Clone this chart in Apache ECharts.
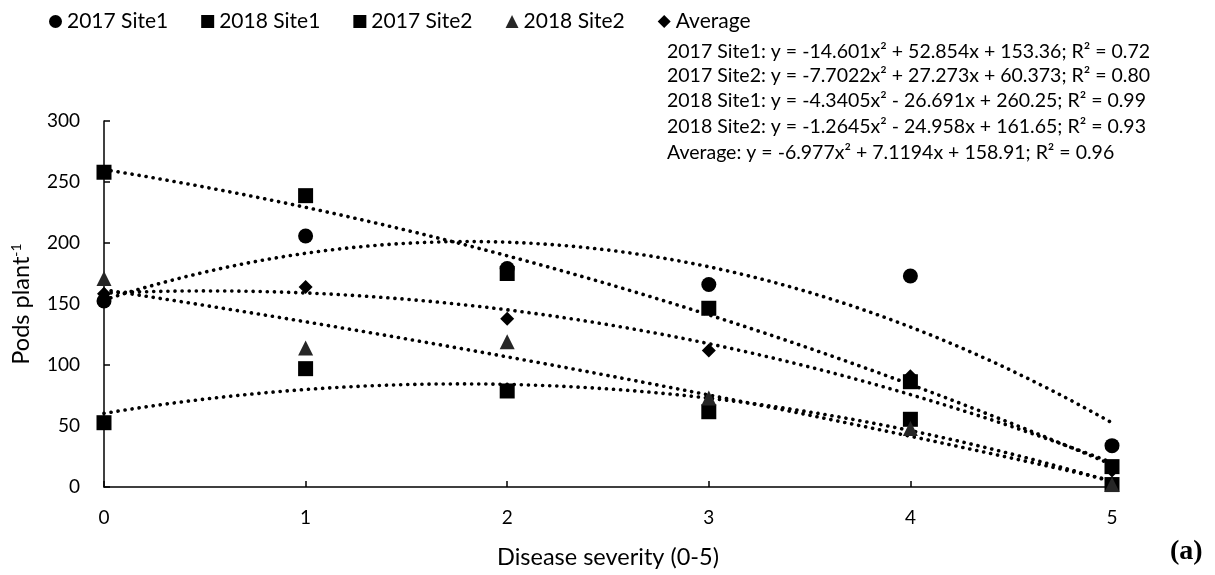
<!DOCTYPE html>
<html>
<head>
<meta charset="utf-8">
<script src="https://cdn.jsdelivr.net/npm/echarts@6/dist/echarts.min.js"></script>
<style>
  html, body { margin: 0; padding: 0; background: #fff; }
  #chart { width: 1215px; height: 575px; }
</style>
</head>
<body>
<div id="chart"></div>
<script>
// severity levels on the x axis
const severity = [0, 1, 2, 3, 4, 5];

// pods per plant
const site1_2017 = [152.5, 205.7, 179, 166, 173, 33.9];
const site1_2018 = [258, 238.8, 175, 146.5, 86.3, 16.7];
const site2_2017 = [52.7, 97, 78.7, 61.7, 55.5, 2];
const site2_2018 = [171, 114, 119, 73, 48, 2];
const average = [158.3, 163.9, 137.9, 111.8, 90.7, 13.6];

// polynomial trendline coefficients [a, b, c] for y = a x^2 + b x + c
const fit_site1_2017 = [-14.601, 52.854, 153.36];
const fit_site2_2017 = [-7.7022, 27.273, 60.373];
const fit_site1_2018 = [-4.3405, -26.691, 260.25];
const fit_site2_2018 = [-1.2645, -24.958, 161.65];
const fit_average = [-6.977, 7.1194, 158.91];

const eqLines = [
  '2017 Site1: y = -14.601x² + 52.854x + 153.36; R² = 0.72',
  '2017 Site2: y = -7.7022x² + 27.273x + 60.373; R² = 0.80',
  '2018 Site1: y = -4.3405x² - 26.691x + 260.25; R² = 0.99',
  '2018 Site2: y = -1.2645x² - 24.958x + 161.65; R² = 0.93',
  'Average: y = -6.977x² + 7.1194x + 158.91; R² = 0.96'
];
const eqTops = [42, 66, 91, 117, 143];

const FONT = 'Lato';

function pts(vals) {
  return severity.map(function (x, i) { return [x, vals[i]]; });
}

function curve(c) {
  var out = [];
  for (var i = 0; i <= 50; i++) {
    var x = i / 10;
    out.push([x, c[0] * x * x + c[1] * x + c[2]]);
  }
  return out;
}

function trend(c) {
  return {
    type: 'line', data: curve(c), showSymbol: false, silent: true, z: 1,
    lineStyle: { color: '#000', width: 3.6, type: [0.1, 7], cap: 'round' }
  };
}

function dots(name, vals, symbol, size, color) {
  return {
    name: name, type: 'scatter', data: pts(vals), symbol: symbol, symbolSize: size,
    itemStyle: { color: color || '#000', opacity: 1 }, z: 3
  };
}

const chart = echarts.init(document.getElementById('chart'));

chart.setOption({
  animation: false,
  textStyle: { fontFamily: FONT },
  grid: { left: 104, right: 103, top: 121, bottom: 88 },
  legend: {
    left: 44, top: 6, itemGap: 33, itemWidth: 13, itemHeight: 13,
    textStyle: { fontFamily: FONT, fontSize: 21, color: '#000' },
    data: [
      { name: '2017 Site1', icon: 'circle' },
      { name: '2018 Site1', icon: 'rect' },
      { name: '2017 Site2', icon: 'rect' },
      { name: '2018 Site2', icon: 'triangle' },
      { name: 'Average', icon: 'diamond' }
    ]
  },
  xAxis: {
    type: 'value', min: 0, max: 5, interval: 1,
    name: 'Disease severity (0-5)', nameLocation: 'middle', nameGap: 58,
    nameTextStyle: { fontFamily: FONT, fontSize: 23.5, color: '#000' },
    axisLine: { lineStyle: { color: '#000', width: 1.5 } },
    axisTick: { inside: true, length: 6, lineStyle: { color: '#000', width: 1.5 } },
    axisLabel: { fontFamily: FONT, fontSize: 19, color: '#000', margin: 21 },
    splitLine: { show: false }
  },
  yAxis: {
    type: 'value', min: 0, max: 300, interval: 50,
    name: '{a|Pods plant}{s|-1}', nameLocation: 'middle', nameGap: 71, nameRotate: 90,
    nameTextStyle: {
      rich: {
        a: { fontFamily: FONT, fontSize: 23.5, color: '#000' },
        s: { fontFamily: FONT, fontSize: 14, color: '#000', verticalAlign: 'top', padding: [0, 0, 10, 0] }
      }
    },
    axisLine: { show: true, lineStyle: { color: '#000', width: 1.5 } },
    axisTick: { show: true, inside: true, length: 6, lineStyle: { color: '#000', width: 1.5 } },
    axisLabel: { fontFamily: FONT, fontSize: 19, color: '#000', margin: 24 },
    splitLine: { show: false }
  },
  graphic: eqLines.map(function (t, i) {
    return {
      type: 'text', left: 667, top: eqTops[i],
      style: { text: t, fontFamily: FONT, fontSize: 19.5, fill: '#000' }
    };
  }).concat([
    {
      type: 'text', left: 1170, top: 538,
      style: { text: '(a)', fontFamily: 'Liberation Serif', fontWeight: 'bold', fontSize: 28, fill: '#000' }
    }
  ]),
  series: [
    trend(fit_site1_2017),
    trend(fit_site2_2017),
    trend(fit_site1_2018),
    trend(fit_site2_2018),
    trend(fit_average),
    dots('2017 Site1', site1_2017, 'circle', 15),
    dots('2018 Site1', site1_2018, 'rect', 15),
    dots('2017 Site2', site2_2017, 'rect', 15),
    dots('2018 Site2', site2_2018, 'triangle', 15, '#262626'),
    dots('Average', average, 'diamond', 14)
  ]
});
</script>
</body>
</html>
